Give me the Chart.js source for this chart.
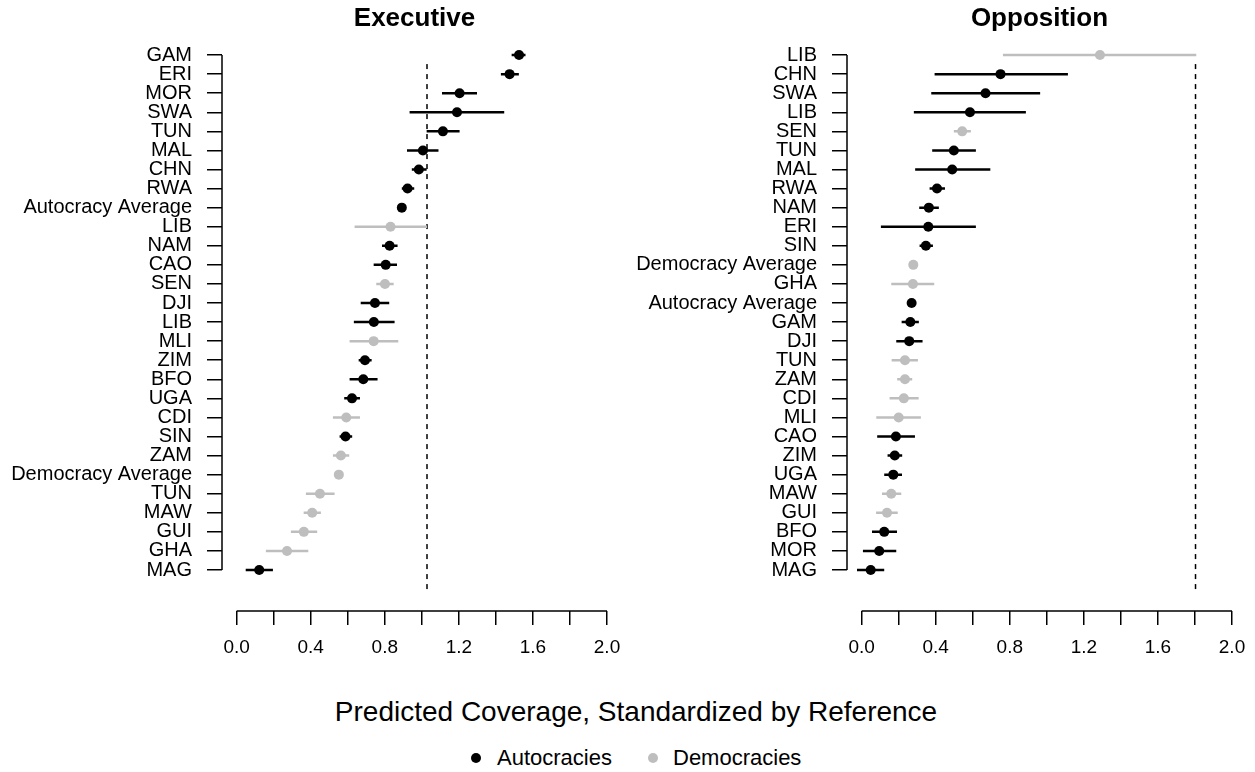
<!DOCTYPE html>
<html>
<head>
<meta charset="utf-8">
<script src="https://cdn.jsdelivr.net/npm/chart.js@4.4.1/dist/chart.umd.min.js"></script>
<style>
body{margin:0;background:#fff;font-family:"Liberation Sans",Arial,sans-serif;overflow:hidden;}
#wrap{position:relative;width:1255px;height:772px;background:#fff;overflow:hidden;}
canvas{position:absolute;top:0;}
#xtitle{position:absolute;left:636px;top:698px;transform:translateX(-50%);font-size:28px;line-height:28px;white-space:nowrap;color:#000;}
.leg{position:absolute;top:747px;font-size:22px;line-height:22px;white-space:nowrap;color:#000;}
.dot{position:absolute;top:753px;width:10px;height:10px;border-radius:50%;}
</style>
</head>
<body>
<div id="wrap">
  <canvas id="execChart" width="625" height="680" style="left:0;width:625px;height:680px"></canvas>
  <canvas id="oppChart" width="630" height="680" style="left:625px;width:630px;height:680px"></canvas>
  <div id="xtitle">Predicted Coverage, Standardized by Reference</div>
  <div class="dot" style="left:471px;background:#000"></div>
  <div class="leg" style="left:497px">Autocracies</div>
  <div class="dot" style="left:648px;background:#bebebe"></div>
  <div class="leg" style="left:673px">Democracies</div>
</div>
<script>
// Executive panel, top row first. A = autocracy, D = democracy
const execLabels = ['GAM', 'ERI', 'MOR', 'SWA', 'TUN', 'MAL', 'CHN', 'RWA', 'Autocracy Average', 'LIB',
    'NAM', 'CAO', 'SEN', 'DJI', 'LIB', 'MLI', 'ZIM', 'BFO', 'UGA', 'CDI',
    'SIN', 'ZAM', 'Democracy Average', 'TUN', 'MAW', 'GUI', 'GHA', 'MAG'];
const execMean = [1.525, 1.474, 1.204, 1.19, 1.114, 1.006, 0.984, 0.923, 0.892, 0.831,
    0.826, 0.805, 0.801, 0.747, 0.741, 0.74, 0.693, 0.684, 0.623, 0.592,
    0.588, 0.563, 0.552, 0.45, 0.408, 0.363, 0.272, 0.122];
const execLow = [1.485, 1.427, 1.109, 0.934, 1.026, 0.92, 0.946, 0.892, null, 0.637,
    0.785, 0.74, 0.754, 0.67, 0.633, 0.61, 0.659, 0.61, 0.581, 0.52,
    0.556, 0.52, null, 0.374, 0.362, 0.293, 0.158, 0.049];
const execHigh = [1.56, 1.524, 1.298, 1.445, 1.204, 1.09, 1.026, 0.959, null, 1.028,
    0.869, 0.866, 0.848, 0.824, 0.853, 0.873, 0.729, 0.761, 0.666, 0.666,
    0.624, 0.608, null, 0.529, 0.455, 0.435, 0.387, 0.196];
const execGroup = ['A', 'A', 'A', 'A', 'A', 'A', 'A', 'A', 'A', 'D',
    'A', 'A', 'D', 'A', 'A', 'D', 'A', 'A', 'A', 'D',
    'A', 'D', 'D', 'D', 'D', 'D', 'D', 'A'];
const execRef = 1.028;

// Opposition panel
const oppLabels = ['LIB', 'CHN', 'SWA', 'LIB', 'SEN', 'TUN', 'MAL', 'RWA', 'NAM', 'ERI',
    'SIN', 'Democracy Average', 'GHA', 'Autocracy Average', 'GAM', 'DJI', 'TUN', 'ZAM', 'CDI', 'MLI',
    'CAO', 'ZIM', 'UGA', 'MAW', 'GUI', 'BFO', 'MOR', 'MAG'];
const oppMean = [1.287, 0.75, 0.669, 0.585, 0.543, 0.498, 0.489, 0.407, 0.363, 0.36,
    0.347, 0.279, 0.277, 0.27, 0.263, 0.257, 0.234, 0.234, 0.228, 0.2,
    0.185, 0.179, 0.171, 0.16, 0.137, 0.122, 0.095, 0.049];
const oppLow = [0.763, 0.394, 0.376, 0.282, 0.498, 0.381, 0.289, 0.367, 0.311, 0.104,
    0.313, null, 0.16, null, 0.216, 0.187, 0.162, 0.192, 0.151, 0.079,
    0.084, 0.14, 0.122, 0.11, 0.078, 0.056, 0.007, -0.025];
const oppHigh = [1.807, 1.114, 0.964, 0.887, 0.59, 0.617, 0.695, 0.45, 0.417, 0.617,
    0.385, null, 0.392, null, 0.309, 0.329, 0.304, 0.273, 0.308, 0.32,
    0.288, 0.219, 0.218, 0.214, 0.195, 0.191, 0.187, 0.122];
const oppGroup = ['D', 'A', 'A', 'A', 'D', 'A', 'A', 'A', 'A', 'A',
    'A', 'D', 'D', 'A', 'A', 'A', 'D', 'D', 'D', 'D',
    'A', 'A', 'A', 'D', 'D', 'A', 'A', 'A'];
const oppRef = 1.803;

const xTickValues = [0, 0.2, 0.4, 0.6, 0.8, 1.0, 1.2, 1.4, 1.6, 1.8, 2.0];
const xTickLabels = ['0.0', '', '0.4', '', '0.8', '', '1.2', '', '1.6', '', '2.0'];

const colors = {A: '#000000', D: '#bebebe'};

Chart.defaults.font.family = '"Liberation Sans", Arial, sans-serif';
Chart.defaults.color = '#000';

// R style axis lines: only from first to last tick
const axisLines = {
    id: 'axisLines',
    afterDraw(chart) {
        const {ctx, chartArea, scales} = chart;
        const n = chart.options.plugins.axisLines.rows;
        ctx.save();
        ctx.strokeStyle = '#000';
        ctx.lineWidth = 1.5;
        ctx.beginPath();
        ctx.moveTo(chartArea.left, scales.y.getPixelForValue(n));
        ctx.lineTo(chartArea.left, scales.y.getPixelForValue(1));
        ctx.moveTo(scales.x.getPixelForValue(xTickValues[0]), chartArea.bottom);
        ctx.lineTo(scales.x.getPixelForValue(xTickValues[xTickValues.length - 1]), chartArea.bottom);
        ctx.stroke();
        ctx.restore();
    }
};

function makePanel(id, title, labels, mean, low, high, group, ref, padRight) {
    const n = labels.length;
    const pts = {A: [], D: []};
    const bars = {A: [], D: []};
    labels.forEach((lab, i) => {
        const y = n - i;
        pts[group[i]].push({x: mean[i], y: y});
        if (low[i] !== null) {
            bars[group[i]].push({x: low[i], y: y}, {x: high[i], y: y}, {x: null, y: null});
        }
    });

    const datasets = [];
    ['A', 'D'].forEach(g => {
        datasets.push({
            data: pts[g],
            backgroundColor: colors[g],
            borderWidth: 0,
            pointRadius: 5,
            order: 0
        });
        datasets.push({
            data: bars[g],
            showLine: true,
            spanGaps: false,
            borderColor: colors[g],
            borderWidth: 2.5,
            pointRadius: 0,
            order: 1
        });
    });
    datasets.push({
        data: [{x: ref, y: 0}, {x: ref, y: 27.7}],
        showLine: true,
        borderColor: '#000',
        borderWidth: 1.5,
        borderDash: [5, 5],
        pointRadius: 0,
        order: 2
    });

    return new Chart(document.getElementById(id), {
        type: 'scatter',
        data: {datasets: datasets},
        plugins: [axisLines],
        options: {
            responsive: false,
            animation: false,
            layout: {padding: {left: 0, right: padRight, top: 0, bottom: 0}},
            plugins: {
                legend: {display: false},
                tooltip: {enabled: false},
                title: {
                    display: true,
                    text: title,
                    fullSize: false,
                    color: '#000',
                    font: {size: 26, weight: 'bold'},
                    padding: {top: 3, bottom: 6}
                },
                axisLines: {rows: n}
            },
            scales: {
                x: {
                    type: 'linear',
                    min: -0.079,
                    max: 2.0,
                    afterBuildTicks: s => { s.ticks = xTickValues.map(v => ({value: v})); },
                    afterFit: s => { s.height = 69; s.paddingLeft = 0; s.paddingRight = 0; },
                    ticks: {
                        callback: (v, i) => xTickLabels[i],
                        autoSkip: false,
                        maxRotation: 0,
                        color: '#000',
                        font: {size: 19},
                        padding: 11
                    },
                    grid: {drawOnChartArea: false, tickLength: 14, color: '#000', lineWidth: 1.5},
                    border: {display: false}
                },
                y: {
                    type: 'linear',
                    min: -1.15,
                    max: 28.78,
                    afterBuildTicks: s => { s.ticks = labels.map((l, i) => ({value: i + 1})); },
                    afterFit: s => { s.width = 222; },
                    ticks: {
                        callback: v => labels[n - v],
                        autoSkip: false,
                        color: '#000',
                        font: {size: 20},
                        padding: 15
                    },
                    grid: {drawOnChartArea: false, tickLength: 15, color: '#000', lineWidth: 1.5},
                    border: {display: false}
                }
            }
        }
    });
}

makePanel('execChart', 'Executive', execLabels, execMean, execLow, execHigh, execGroup, execRef, 18);
makePanel('oppChart', 'Opposition', oppLabels, oppMean, oppLow, oppHigh, oppGroup, oppRef, 23);
</script>
</body>
</html>
